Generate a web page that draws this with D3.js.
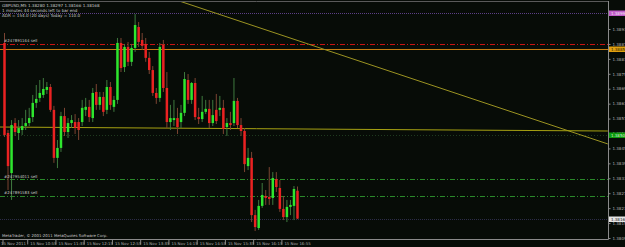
<!DOCTYPE html>
<html>
<head>
<meta charset="utf-8">
<script src="https://cdn.jsdelivr.net/npm/d3@7"></script>
<style>
body { margin: 0; background: #070c07; }
svg { display: block; }
text { font-family: "DejaVu Sans", sans-serif; }
</style>
</head>
<body>
<div id="chart"></div>
<script>
// GBPUSD M5 — MT4 style candle chart

const W = 625, H = 247;

// bars, 15 Nov 2011 10:20 .. 17:15
const open  = [1.38874,1.38512,1.38351,1.38552,1.38512,1.38524,1.38540,1.38552,1.38576,1.38633,
               1.38653,1.38665,1.38685,1.38697,1.38605,1.38412,1.38452,1.38580,1.38516,1.38552,
               1.38556,1.38556,1.38556,1.38605,1.38617,1.38572,1.38677,1.38625,1.38657,1.38605,
               1.38697,1.38617,1.38645,1.38874,1.38777,1.38858,1.38798,1.38854,1.38938,1.38886,
               1.38870,1.38814,1.38765,1.38673,1.38653,1.38866,1.38693,1.38556,1.38564,1.38572,
               1.38556,1.38593,1.38725,1.38645,1.38713,1.38576,1.38568,1.38597,1.38609,1.38552,
               1.38605,1.38605,1.38613,1.38536,1.38552,1.38552,1.38641,1.38544,1.38520,1.38379,
               1.38412,1.38182,1.38130,1.38219,1.38259,1.38255,1.38251,1.38327,1.38291,1.38207,
               1.38174,1.38215,1.38219,1.38280];
const high  = [1.38914,1.38524,1.38564,1.38572,1.38564,1.38572,1.38605,1.38613,1.38665,1.38705,
               1.38725,1.38733,1.38717,1.38709,1.38621,1.38484,1.38597,1.38613,1.38572,1.38584,
               1.38588,1.38572,1.38645,1.38653,1.38645,1.38693,1.38709,1.38677,1.38677,1.38725,
               1.38717,1.38661,1.38894,1.38894,1.38870,1.38878,1.38870,1.38990,1.38958,1.38914,
               1.38894,1.38838,1.38781,1.38693,1.38874,1.38886,1.38757,1.38625,1.38645,1.38613,
               1.38625,1.38757,1.38749,1.38717,1.38733,1.38613,1.38661,1.38645,1.38645,1.38645,
               1.38669,1.38661,1.38645,1.38572,1.38597,1.38733,1.38653,1.38572,1.38532,1.38452,
               1.38436,1.38203,1.38243,1.38311,1.38283,1.38375,1.38355,1.38355,1.38323,1.38259,
               1.38243,1.38243,1.38299,1.38297];
const low   = [1.38496,1.38283,1.38243,1.38500,1.38484,1.38504,1.38524,1.38540,1.38556,1.38613,
               1.38637,1.38653,1.38669,1.38597,1.38392,1.38371,1.38436,1.38500,1.38492,1.38532,
               1.38508,1.38484,1.38540,1.38580,1.38556,1.38556,1.38605,1.38605,1.38580,1.38588,
               1.38605,1.38597,1.38629,1.38757,1.38757,1.38781,1.38781,1.38838,1.38858,1.38846,
               1.38798,1.38749,1.38661,1.38629,1.38637,1.38677,1.38532,1.38524,1.38540,1.38508,
               1.38532,1.38580,1.38629,1.38629,1.38564,1.38548,1.38556,1.38588,1.38532,1.38540,
               1.38548,1.38580,1.38508,1.38500,1.38524,1.38540,1.38532,1.38500,1.38355,1.38363,
               1.38154,1.38118,1.38122,1.38211,1.38223,1.38223,1.38223,1.38275,1.38195,1.38162,
               1.38154,1.38182,1.38162,1.38166];
const close = [1.38504,1.38379,1.38544,1.38516,1.38532,1.38540,1.38552,1.38572,1.38633,1.38649,
               1.38673,1.38689,1.38697,1.38605,1.38412,1.38452,1.38580,1.38516,1.38552,1.38564,
               1.38532,1.38524,1.38613,1.38617,1.38576,1.38673,1.38625,1.38657,1.38597,1.38697,
               1.38625,1.38645,1.38874,1.38773,1.38858,1.38798,1.38854,1.38946,1.38878,1.38862,
               1.38814,1.38765,1.38673,1.38653,1.38858,1.38693,1.38556,1.38572,1.38572,1.38536,
               1.38593,1.38729,1.38645,1.38713,1.38576,1.38568,1.38597,1.38609,1.38552,1.38584,
               1.38560,1.38613,1.38528,1.38552,1.38544,1.38641,1.38544,1.38520,1.38387,1.38412,
               1.38182,1.38134,1.38219,1.38263,1.38251,1.38247,1.38331,1.38295,1.38207,1.38174,
               1.38215,1.38223,1.38287,1.38168];

const timeIdx = [0, 7, 15, 23, 31, 39, 47, 55, 63, 71, 79];
const timeLabels = ["15 Nov 2011","15 Nov 10:55","15 Nov 11:35","15 Nov 12:15","15 Nov 12:55","15 Nov 13:35",
                    "15 Nov 14:15","15 Nov 14:55","15 Nov 15:35","15 Nov 16:15","15 Nov 16:55"];
const priceTicks = [1.38090,1.38150,1.38210,1.38270,1.38330,1.38390,1.38450,1.38510,1.38570,1.38630,
                    1.38690,1.38750,1.38810,1.38870,1.38930];

const header = ["GBPUSD,M5  1.38280 1.38297 1.38166 1.38168",
                "1 minutes 44 seconds left to bar end",
                "ADR = 154.0   (20 days)      Today = 110.0"];
const stopPrice = 1.38870, stopLabel = "#247891164 sell";
const orderPrices = [1.38327, 1.38259];
const orderLabels = ["#247954011 sell", "#247891583 sell"];
const adrHigh = 1.38995;
const orangeLevel = 1.38850;
const alertLevel = 1.38504;
const bid = 1.38168;
const trendDown = [[49.4, 1.39043], [170.9, 1.38468]];
const trendFlat = [[-1.3, 1.38536], [170.9, 1.38520]];

const svg = d3.select("#chart").append("svg").attr("width", W).attr("height", H);
svg.append("rect").attr("width", W).attr("height", H).attr("fill", "#070c07");

const PL = 0, PR = 608, PT = 1, PB = 239;
const x = d3.scaleLinear().domain([0, 83]).range([4.5, 297.5]);
const y = d3.scaleLinear().domain([1.38090, 1.38930]).range([238, 29]);

svg.append("clipPath").attr("id", "plot").append("rect")
  .attr("x", PL).attr("y", PT).attr("width", PR - PL).attr("height", PB - PT);
const g = svg.append("g").attr("clip-path", "url(#plot)");

const hline = (p, color, dash) => g.append("line")
  .attr("x1", PL).attr("x2", PR).attr("y1", Math.round(y(p)) + 0.5).attr("y2", Math.round(y(p)) + 0.5)
  .attr("stroke", color).attr("stroke-width", 1).attr("stroke-dasharray", dash);

// levels
hline(adrHigh, "#5c3f86", "1,1");
hline(alertLevel, "#1f3a1f", "1,2");
hline(bid, "#2c2c48", "1,1");
hline(orangeLevel, "#c47c12", null);
hline(stopPrice, "#c81414", "5,2,1,2");
orderPrices.forEach(p => hline(p, "#2a8a2a", "5,2,1,2"));

// trend lines
[trendDown, trendFlat].forEach((t, k) => {
  g.append("line")
    .attr("x1", x(t[0][0])).attr("y1", y(t[0][1]))
    .attr("x2", x(t[1][0])).attr("y2", y(t[1][1]))
    .attr("stroke", k ? "#a7a212" : "#9c9422").attr("stroke-width", 1);
});

// candles
const bars = open.map((o, i) => ({i, o, h: high[i], l: low[i], c: close[i]}));
g.selectAll(".wick").data(bars).join("line")
  .attr("x1", d => x(d.i)).attr("x2", d => x(d.i))
  .attr("y1", d => y(d.h)).attr("y2", d => y(d.l))
  .attr("stroke", d => d.c >= d.o ? "#3f7a3f" : "#7c4432").attr("stroke-width", 1);
g.selectAll(".body").data(bars).join("rect")
  .attr("x", d => x(d.i) - 1.25).attr("width", 2.5)
  .attr("y", d => y(Math.max(d.o, d.c)))
  .attr("height", d => Math.max(1, Math.abs(y(d.o) - y(d.c))))
  .attr("fill", d => d.c >= d.o ? "#2ee62e" : "#ea2222");

// text on chart
const small = "#c9c9c9";
svg.selectAll(".hdr").data(header).join("text")
  .attr("x", 2).attr("y", (d, i) => 6.5 + i * 5.3)
  .attr("font-size", 4.1).attr("fill", small).text(d => d);
svg.append("text").attr("x", 4).attr("y", y(stopPrice) - 1.5)
  .attr("font-size", 3.9).attr("fill", small).text(stopLabel);
svg.selectAll(".olab").data(orderPrices).join("text")
  .attr("x", 4).attr("y", d => y(d) - 1.5)
  .attr("font-size", 3.9).attr("fill", small).text((d, i) => orderLabels[i]);
svg.append("text").attr("x", 2).attr("y", 236.5)
  .attr("font-size", 3.9).attr("fill", small).text("MetaTrader, © 2001-2011 MetaQuotes Software Corp.");

// frame
svg.append("line").attr("x1", 0).attr("x2", PR).attr("y1", 1.5).attr("y2", 1.5).attr("stroke", "#5a5a5a");
svg.append("line").attr("x1", 0).attr("x2", PR + 0.5).attr("y1", PB + 0.5).attr("y2", PB + 0.5).attr("stroke", "#8a8a8a");

// price axis
const yAxis = d3.axisRight(y).tickValues(priceTicks).tickFormat(d3.format(".5f")).tickSize(2).tickPadding(2);
const ay = svg.append("g").attr("transform", `translate(${PR + 0.5},0)`).call(yAxis);
ay.select(".domain").attr("d", `M0,${PT}V${PB + 0.5}`).attr("stroke", "#8a8a8a");
ay.selectAll(".tick line").attr("stroke", "#8a8a8a");
ay.selectAll(".tick text").attr("font-size", 4).attr("fill", "#b0b0b0").attr("font-family", "DejaVu Sans");

// price boxes on the axis
const boxes = [
  {p: adrHigh, fill: "#c05cc8", ink: "#f4e8f4"},
  {p: orangeLevel, fill: "#e0a010", ink: "#2a1a00"},
  {p: alertLevel, fill: "#0c9a0c", ink: "#d8f0d8"},
  {p: bid, fill: "#e4e4e4", ink: "#202020"}
];
const bx = svg.selectAll(".box").data(boxes).join("g")
  .attr("transform", d => `translate(${PR + 1},${Math.round(y(d.p)) - 2.5})`);
bx.append("rect").attr("width", 17).attr("height", 5.5).attr("fill", d => d.fill);
bx.append("text").attr("x", 2).attr("y", 4.4).attr("font-size", 4)
  .attr("fill", d => d.ink).text(d => d3.format(".5f")(d.p));

// time axis
const ax = svg.append("g").attr("transform", `translate(0,${PB + 0.5})`);
ax.selectAll("line").data(timeIdx).join("line")
  .attr("x1", d => x(d) - 1.5).attr("x2", d => x(d) - 1.5).attr("y1", 0).attr("y2", 5)
  .attr("stroke", "#8a8a8a");
ax.selectAll("text").data(timeIdx).join("text")
  .attr("x", (d, i) => i === 0 ? 1 : x(d) + 1).attr("y", 5.5)
  .attr("font-size", 3.9).attr("fill", "#b0b0b0").text((d, i) => timeLabels[i]);
</script>
</body>
</html>
